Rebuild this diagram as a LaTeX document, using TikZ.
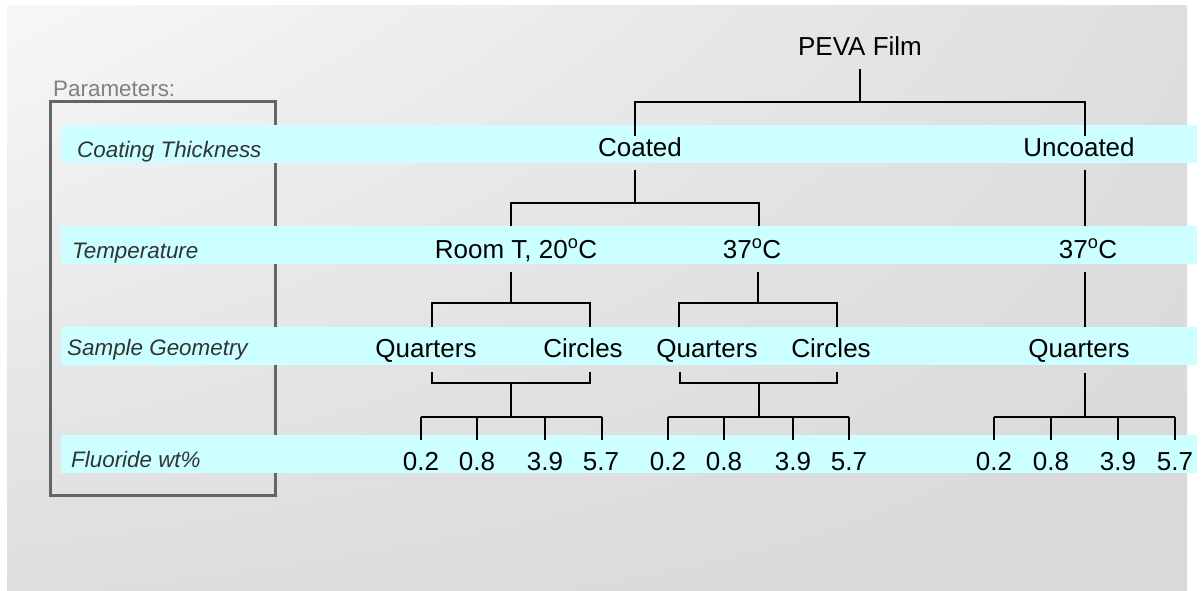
\documentclass[tikz,border=0pt]{standalone}
\usepackage{fontspec}
\setmainfont{Liberation Sans}
\usetikzlibrary{shadings}
\definecolor{bandcyan}{HTML}{CCFFFF}
\definecolor{framegray}{HTML}{656565}
\definecolor{labeltext}{HTML}{333333}
\definecolor{paramtext}{HTML}{808080}
\begin{document}
\begin{tikzpicture}[x=1pt,y=-1pt,
  val/.style={font=\fontsize{26}{30}\selectfont, anchor=base, inner sep=0pt, text=black},
  param/.style={font=\fontsize{22.4}{26}\selectfont\itshape, anchor=base west, inner sep=0pt, text=labeltext},
  link/.style={draw=black, line width=2pt},
  bandstrip/.style={fill=bandcyan},
]
\useasboundingbox (0,0) rectangle (1202,590);

% backdrop
\shade[upper left=white!97!black, upper right=white!87!black,
       lower left=white!87!black, lower right=white!85!black]
  (7,5) rectangle (1187,590);

% parameter frame
\draw[framegray, line width=3pt] (50,101) rectangle (275,495);
\node[anchor=base west, inner sep=0pt, text=paramtext,
      font=\fontsize{22.4}{26}\selectfont] (params) at (53,96) {Parameters:};

% parameter bands
\fill[bandstrip] (61,125) rectangle (1197,163);
\fill[bandstrip] (61,226) rectangle (1197,264);
\fill[bandstrip] (61,327) rectangle (1197,365);
\fill[bandstrip] (61,435) rectangle (1197,473);

\node[param] (pcoat) at (77,157) {Coating Thickness};
\node[param] (ptemp) at (72,258) {Temperature};
\node[param] (pgeom) at (67,355) {Sample Geometry};
\node[param] (pfluo) at (71,467) {Fluoride wt\%};

% tree labels
\node[val] (peva) at (860,55) {PEVA Film};
\node[val] (coated) at (640,156) {Coated};
\node[val] (uncoated) at (1079,156) {Uncoated};
\node[val] (troom) at (516,258) {Room T, 20\textsuperscript{o}C};
\node[val] (twarm) at (752,258) {37\textsuperscript{o}C};
\node[val] (tunc) at (1088,258) {37\textsuperscript{o}C};
\node[val] (qa) at (426,357) {Quarters};
\node[val] (ca) at (583,357) {Circles};
\node[val] (qb) at (707,357) {Quarters};
\node[val] (cb) at (831,357) {Circles};
\node[val] (qc) at (1079,357) {Quarters};
\foreach \x/\v/\n in {421/0.2/a1, 477/0.8/a2, 545/3.9/a3, 601/5.7/a4,
                      668/0.2/b1, 724/0.8/b2, 793/3.9/b3, 849/5.7/b4,
                      994/0.2/c1, 1051/0.8/c2, 1118/3.9/c3, 1175/5.7/c4}
  \node[val] (f\n) at (\x,470) {\v};

% connector end points
\coordinate (peva-o) at (860,69);
\coordinate (coated-i) at (635,136);
\coordinate (uncoated-i) at (1085,136);
\coordinate (coated-o) at (635,170);
\coordinate (uncoated-o) at (1085,170);
\coordinate (troom-i) at (511,226);
\coordinate (twarm-i) at (759,226);
\coordinate (tunc-i) at (1085,226);
\coordinate (troom-o) at (511,272);
\coordinate (twarm-o) at (758,272);
\coordinate (tunc-o) at (1085,272);
\coordinate (qa-i) at (432,327);
\coordinate (ca-i) at (590,327);
\coordinate (qb-i) at (679,327);
\coordinate (cb-i) at (837,327);
\coordinate (qc-i) at (1085,327);
\coordinate (qa-o) at (432,372);
\coordinate (ca-o) at (590,372);
\coordinate (qb-o) at (680,372);
\coordinate (cb-o) at (837,372);
\coordinate (qc-o) at (1085,373);
\coordinate (ga) at (511,383);
\coordinate (gb) at (759,383);

% level 0 -> 1
\draw[link] (peva-o) -- (860,102);
\draw[link] (coated-i) -- (635,102) -- (1085,102) -- (uncoated-i);
% level 1 -> 2
\draw[link] (coated-o) -- (635,203);
\draw[link] (troom-i) -- (511,203) -- (759,203) -- (twarm-i);
\draw[link] (uncoated-o) -- (tunc-i);
% level 2 -> 3
\draw[link] (troom-o) -- (511,303);
\draw[link] (qa-i) -- (432,303) -- (590,303) -- (ca-i);
\draw[link] (twarm-o) -- (758,303);
\draw[link] (qb-i) -- (679,303) -- (837,303) -- (cb-i);
\draw[link] (tunc-o) -- (qc-i);
% level 3 -> 4
\draw[link] (qa-o) -- (432,383) -- (590,383) -- (ca-o);
\draw[link] (qb-o) -- (680,383) -- (837,383) -- (cb-o);
\draw[link] (ga) -- (511,417);
\draw[link] (gb) -- (759,417);
\draw[link] (qc-o) -- (1085,417);
\foreach \xl/\xr in {421/602, 668/849, 994/1175}
  \draw[link] (\xl,417) -- (\xr,417);
\foreach \x in {421,477,545,602, 668,724,793,849, 994,1051,1118,1175}
  \draw[link] (\x,417) -- (\x,440);
\end{tikzpicture}
\end{document}
